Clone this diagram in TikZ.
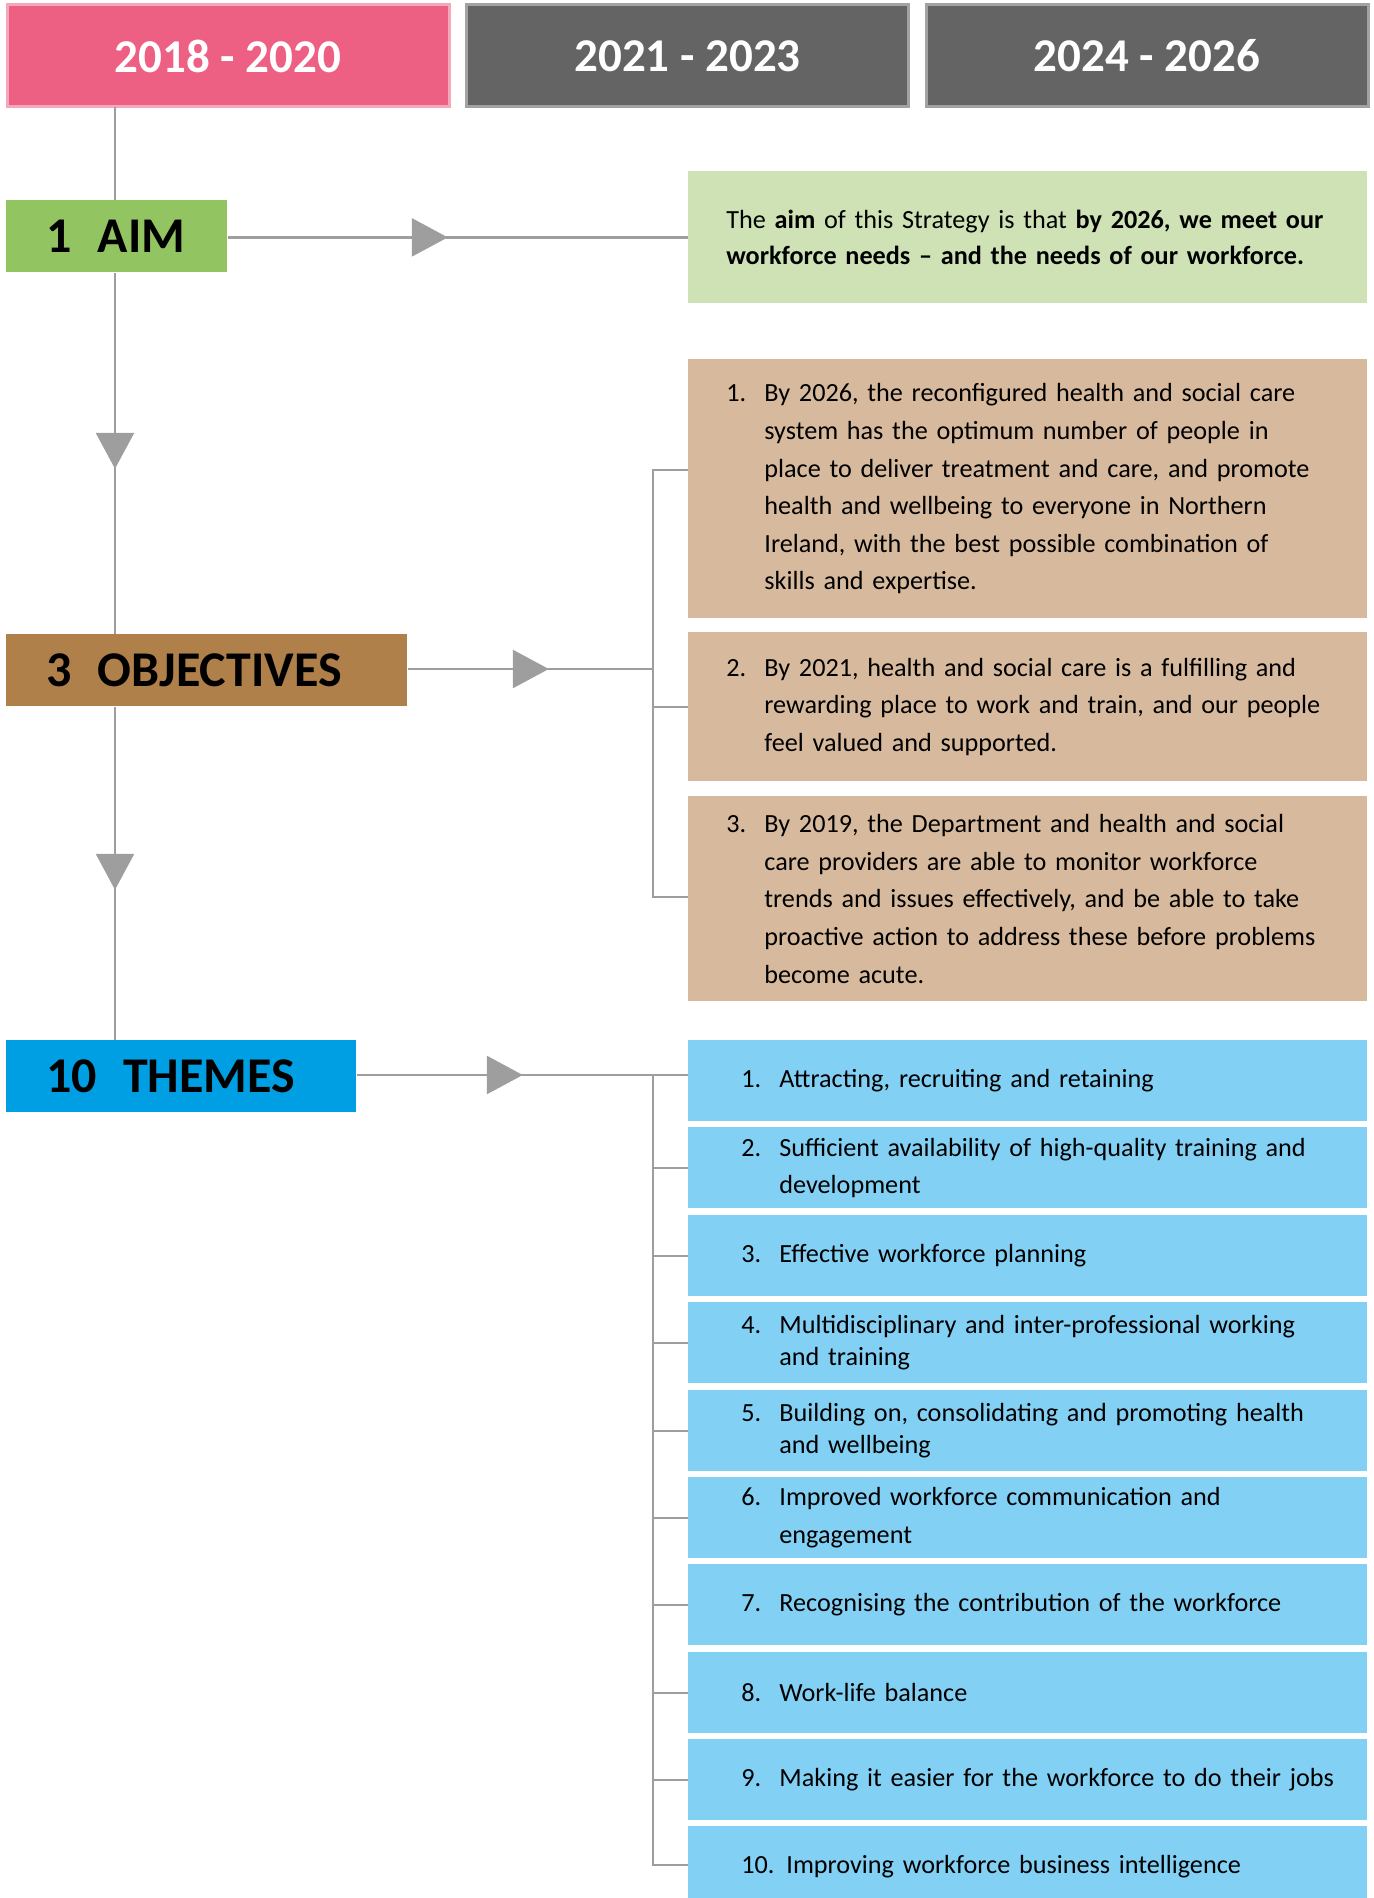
\documentclass[tikz,border=0pt]{standalone}
\usepackage{fontspec}
\setmainfont{Carlito}
\usetikzlibrary{arrows.meta,decorations.markings}
\definecolor{pinkH}{HTML}{EE6083}
\definecolor{pinkB}{HTML}{F5A8BA}
\definecolor{grayH}{HTML}{646464}
\definecolor{grayB}{HTML}{A2A2A2}
\definecolor{aimG}{HTML}{92C462}
\definecolor{aimL}{HTML}{CFE2B5}
\definecolor{objB}{HTML}{B0804B}
\definecolor{objL}{HTML}{D7BA9D}
\definecolor{themeB}{HTML}{009FE3}
\definecolor{themeL}{HTML}{83D0F5}
\definecolor{lineC}{HTML}{9E9E9E}
\newcommand{\nb}[1]{\makebox[19pt][l]{#1}}
\newcommand{\ind}{\hspace*{19pt}}
\newcommand{\tnb}[1]{\makebox[19pt][l]{#1}}
\newcommand{\tind}{\hspace*{19pt}}
\newcommand{\hdrtxt}[1]{\raisebox{-1.2pt}{#1}}
\tikzset{
  hdr/.style={rectangle, inner sep=0pt, line width=1.5pt, minimum width=221pt, minimum height=51pt,
    text=white, font=\fontsize{23.5}{28}\selectfont\bfseries},
  lbl/.style={rectangle, anchor=north west, inner xsep=20pt, inner ysep=0pt, align=left,
    minimum height=36pt, font=\fontsize{25}{30}\selectfont\bfseries, text=black},
  obox/.style={rectangle, anchor=north west, inner xsep=19pt, inner ysep=0pt, text width=301.5pt,
    align=left, fill=objL, font=\fontsize{13.1}{18.8}\selectfont},
  tbox/.style={rectangle, anchor=north west, inner xsep=26.5pt, inner ysep=0pt, text width=286.5pt,
    align=left, fill=themeL, minimum height=40.5pt, font=\fontsize{13.1}{18.8}\selectfont},
  conn/.style={draw=lineC, line width=1.35pt},
  tri/.style={postaction={decorate, decoration={markings,
    mark=at position #1 with {\arrow[lineC]{Triangle[length=18pt,width=19pt]}}}}}
}
\begin{document}
\begin{tikzpicture}[x=0.5pt,y=-0.5pt]
\useasboundingbox (0,0) rectangle (1373,1898);
% headers
\node[hdr, fill=pinkH, draw=pinkB] (h1) at (228,56) {\hdrtxt{2018 - 2020}};
\node[hdr, fill=grayH, draw=grayB] (h2) at (687.5,56) {\hdrtxt{2021 - 2023}};
\node[hdr, fill=grayH, draw=grayB] (h3) at (1147,56) {\hdrtxt{2024 - 2026}};
% left labels
\node[lbl, fill=aimG, minimum width=110.5pt, text width=70.5pt] (aim) at (6,200) {1\hspace{13pt}AIM};
\node[lbl, fill=objB, minimum width=200.5pt, text width=160.5pt] (obj) at (6,634) {3\hspace{13pt}OBJECTIVES};
\node[lbl, fill=themeB, minimum width=175pt, text width=135pt] (thm) at (6,1040) {10\hspace{13pt}THEMES};
% aim text box
\node[rectangle, anchor=north west, inner xsep=19pt, inner ysep=0pt, text width=301.5pt, minimum height=66pt,
  align=left, fill=aimL, font=\fontsize{13.1}{18}\selectfont] (aimt) at (688,171)
  {The \textbf{aim} of this Strategy is that \textbf{by 2026, we meet our}\\
   \textbf{workforce needs – and the needs of our workforce.}};
% objectives
\node[obox, minimum height=129.5pt] (o1) at (688,359)
  {\nb{1.}\mbox{By 2026, the reconfigured health and social care}\\
   \ind\mbox{system has the optimum number of people in}\\
   \ind\mbox{place to deliver treatment and care, and promote}\\
   \ind\mbox{health and wellbeing to everyone in Northern}\\
   \ind\mbox{Ireland, with the best possible combination of}\\
   \ind\mbox{skills and expertise.}};
\node[obox, minimum height=74.5pt] (o2) at (688,632)
  {\nb{2.}\mbox{By 2021, health and social care is a fulfilling and}\\
   \ind\mbox{rewarding place to work and train, and our people}\\
   \ind\mbox{feel valued and supported.}};
\node[obox, minimum height=102.5pt] (o3) at (688,796)
  {\nb{3.}\mbox{By 2019, the Department and health and social}\\
   \ind\mbox{care providers are able to monitor workforce}\\
   \ind\mbox{trends and issues effectively, and be able to take}\\
   \ind\mbox{proactive action to address these before problems}\\
   \ind\mbox{become acute.}};
% themes
\node[tbox] (t1) at (688,1040) {\tnb{1.}\mbox{Attracting, recruiting and retaining}};
\node[tbox] (t2) at (688,1127) {\tnb{2.}\mbox{Sufficient availability of high-quality training and}\\ \tind development};
\node[tbox] (t3) at (688,1215) {\tnb{3.}\mbox{Effective workforce planning}};
\node[tbox, font=\fontsize{13.1}{16}\selectfont] (t4) at (688,1302) {\tnb{4.}\mbox{Multidisciplinary and inter-professional working}\\ \tind and training};
\node[tbox, font=\fontsize{13.1}{16}\selectfont] (t5) at (688,1390) {\tnb{5.}\mbox{Building on, consolidating and promoting health}\\ \tind and wellbeing};
\node[tbox] (t6) at (688,1477) {\tnb{6.}\mbox{Improved workforce communication and}\\ \tind engagement};
\node[tbox] (t7) at (688,1564) {\tnb{7.}\mbox{Recognising the contribution of the workforce}};
\node[tbox] (t8) at (688,1652) {\tnb{8.}\mbox{Work-life balance}};
\node[tbox] (t9) at (688,1739) {\tnb{9.}\mbox{Making it easier for the workforce to do their jobs}};
\node[tbox] (t10) at (688,1826) {\makebox[22.5pt][l]{10.}\mbox{Improving workforce business intelligence}};
% main vertical
\coordinate (v0) at (115,107);
\draw[conn] (v0) -- (v0 |- aim.north);
\draw[conn, tri=98pt] (aim.south -| v0) -- (obj.north -| v0);
\draw[conn, tri=91.5pt] (obj.south -| v0) -- (thm.north -| v0);
% aim arrow
\draw[conn, tri=110pt] (aim.east |- aimt.west) -- (aimt.west);
% objectives bracket
\coordinate (ob) at (653,669);
\coordinate (ob1) at (653,470);
\coordinate (ob3) at (653,897);
\draw[conn, tri=70.5pt] (obj.east |- ob) -- (ob);
\draw[conn] (ob1 -| o1.west) -- (ob1) -- (ob3) -- (ob3 -| o3.west);
\draw[conn] (ob1 |- o2.west) -- (o2.west);
% themes bracket
\coordinate (tb) at (653,1075);
\coordinate (tb10) at (653,1865);
\draw[conn, tri=83pt] (thm.east |- tb) -- (tb -| t1.west);
\draw[conn] (tb) -- (tb10) -- (tb10 -| t10.west);
\foreach \n in {2,...,9} { \draw[conn] (tb |- t\n.west) -- (t\n.west); }
\end{tikzpicture}
\end{document}
